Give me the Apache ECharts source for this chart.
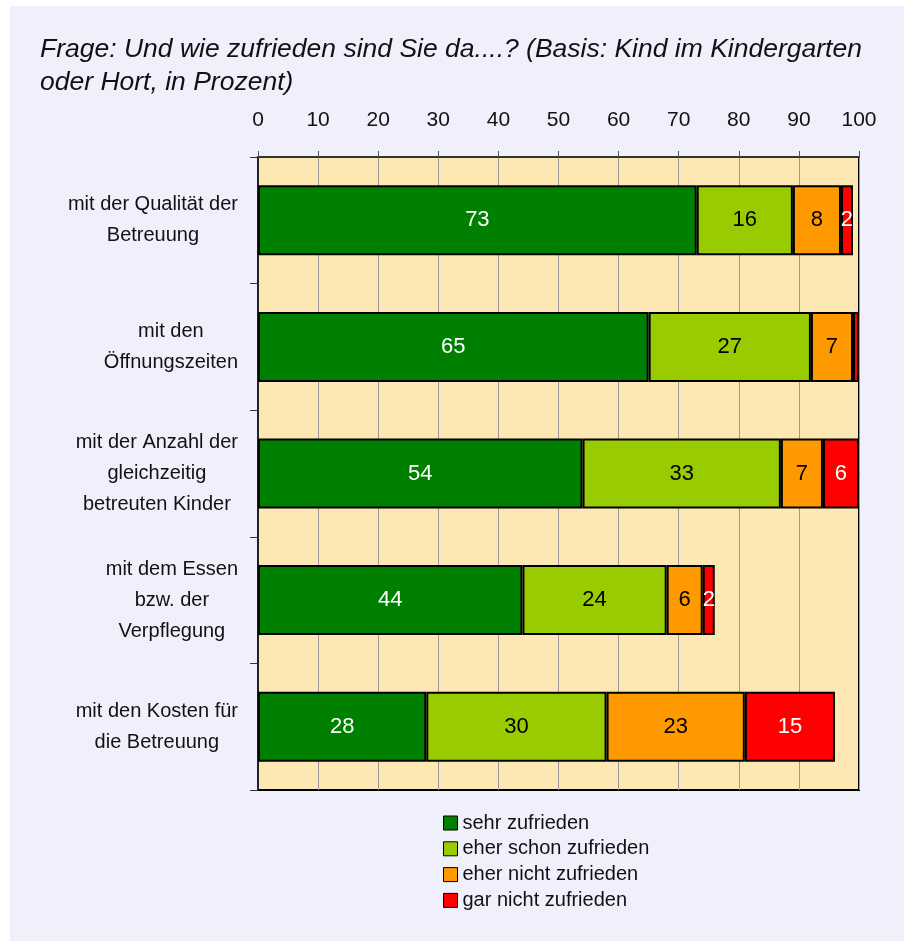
<!DOCTYPE html>
<html>
<head>
<meta charset="utf-8">
<script src="https://cdn.jsdelivr.net/npm/echarts@6/dist/echarts.min.js"></script>
<style>
  html, body { margin: 0; padding: 0; background: #ffffff; }
  #chart { position: absolute; left: 10px; top: 6px; width: 894px; height: 935px; }
</style>
</head>
<body>
<div id="chart"></div>
<script>
    // Kategorien (von oben nach unten)
    var categories = [
        'mit der Qualität der\nBetreuung',
        'mit den\nÖffnungszeiten',
        'mit der Anzahl der\ngleichzeitig\nbetreuten Kinder',
        'mit dem Essen\nbzw. der\nVerpflegung',
        'mit den Kosten für\ndie Betreuung'
    ];
    var xTicks = [0, 10, 20, 30, 40, 50, 60, 70, 80, 90, 100];

    // Werte in Prozent
    var sehrZufrieden = [73, 65, 54, 44, 28];
    var eherSchonZufrieden = [16, 27, 33, 24, 30];
    var eherNichtZufrieden = [8, 7, 7, 6, 23];
    var garNichtZufrieden = [2, 1, 6, 2, 15];

    var seriesNames = ['sehr zufrieden', 'eher schon zufrieden', 'eher nicht zufrieden', 'gar nicht zufrieden'];
    var seriesData = [sehrZufrieden, eherSchonZufrieden, eherNichtZufrieden, garNichtZufrieden];
    var colors = ['#008000', '#99cc00', '#ff9900', '#ff0000'];
    var labelColors = ['#ffffff', '#000000', '#000000', '#ffffff'];

    var fontName = '"Liberation Sans", Arial, sans-serif';

    var series = [];
    for (var i = 0; i < seriesNames.length; i++) {
        series.push({
            name: seriesNames[i],
            type: 'bar',
            stack: 'gesamt',
            barWidth: 70,
            data: seriesData[i],
            itemStyle: {
                color: colors[i],
                borderColor: '#000',
                borderWidth: 2
            },
            label: {
                show: true,
                position: 'inside',
                color: labelColors[i],
                fontFamily: fontName,
                fontSize: 22,
                formatter: function (p) {
                    return p.value < 2 ? '' : p.value;
                }
            }
        });
    }

    var myChart = echarts.init(document.getElementById('chart'));
    var option = {
        backgroundColor: '#f0f0fd',
        animation: false,
        title: {
            text: 'Frage: Und wie zufrieden sind Sie da....? (Basis: Kind im Kindergarten\noder Hort, in Prozent)',
            left: 25,
            top: 22,
            textStyle: {
                fontFamily: fontName,
                fontStyle: 'italic',
                fontWeight: 'normal',
                fontSize: 26.5,
                lineHeight: 33,
                color: '#111'
            }
        },
        legend: {
            orient: 'vertical',
            left: 428,
            top: 802,
            itemWidth: 14,
            itemHeight: 14,
            itemGap: 5.8,
            icon: 'rect',
            data: seriesNames,
            itemStyle: { borderColor: '#000', borderWidth: 1 },
            textStyle: {
                fontFamily: fontName,
                fontSize: 20,
                lineHeight: 20,
                color: '#111'
            }
        },
        grid: {
            left: 248,
            right: 45,
            top: 151,
            bottom: 151,
            show: true,
            backgroundColor: '#fde8b4',
            borderColor: '#000',
            borderWidth: 2
        },
        xAxis: {
            type: 'value',
            position: 'top',
            min: 0,
            max: 100,
            interval: 10,
            axisLine: { show: true, lineStyle: { color: '#333', width: 2 } },
            axisTick: { show: true, length: 6, lineStyle: { color: '#555' } },
            splitLine: { show: true, lineStyle: { color: '#999', width: 1 } },
            axisLabel: {
                margin: 26,
                fontFamily: fontName,
                fontSize: 21,
                color: '#111',
                formatter: function (v) {
                    return xTicks.indexOf(v) >= 0 ? String(v) : '';
                }
            }
        },
        yAxis: {
            type: 'category',
            inverse: true,
            data: categories,
            axisLine: { show: true, lineStyle: { color: '#222', width: 2 } },
            axisTick: { show: true, length: 8, lineStyle: { color: '#333' } },
            axisLabel: {
                margin: 20,
                fontFamily: fontName,
                fontSize: 20,
                lineHeight: 31,
                color: '#111',
                formatter: function (v) {
                    return v.split('\n').map(function (s) { return '{c|' + s + '}'; }).join('\n');
                },
                rich: {
                    c: {
                        align: 'center',
                        fontFamily: fontName,
                        fontSize: 20,
                        lineHeight: 31,
                        color: '#111'
                    }
                }
            }
        },
        series: series
    };
    myChart.setOption(option);
</script>
</body>
</html>
